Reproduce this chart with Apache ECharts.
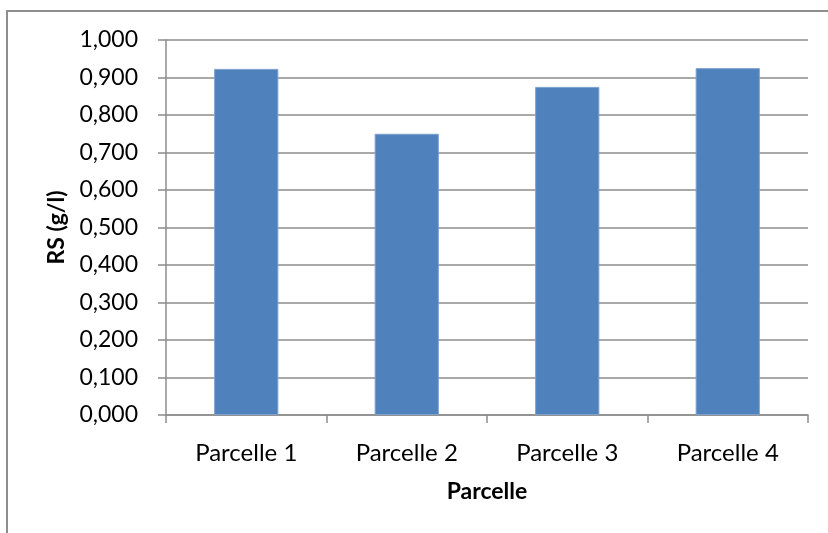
<!DOCTYPE html>
<html>
<head>
<meta charset="utf-8">
<script src="https://cdn.jsdelivr.net/npm/echarts@6/dist/echarts.min.js"></script>
<style>
  html, body { margin: 0; padding: 0; background: #fff; }
  .frame {
    position: absolute; left: 6px; top: 10px; width: 900px; height: 600px;
    border-left: 2px solid #8e8e8e; border-top: 2px solid #8e8e8e;
  }
  #chart { position: absolute; left: 0; top: 0; width: 828px; height: 533px; }
</style>
</head>
<body>
<div class="frame"></div>
<div id="chart"></div>
<script>
// données
const categories = ['Parcelle 1', 'Parcelle 2', 'Parcelle 3', 'Parcelle 4']
const rsValues = [0.923, 0.750, 0.875, 0.925]
const yTitle = 'RS (g/l)'
const xTitle = 'Parcelle'

const font = 'Lato, "Open Sans", sans-serif'
const chart = echarts.init(document.getElementById('chart'))

chart.setOption({
  animation: false,
  textStyle: { fontFamily: font },
  grid: { left: 166, right: 20, top: 40, bottom: 118, containLabel: false },
  xAxis: {
    type: 'category',
    data: categories,
    name: xTitle,
    nameLocation: 'middle',
    nameGap: 65,
    nameTextStyle: { fontSize: 23, fontWeight: 'bold', color: '#000', fontFamily: font },
    axisLine: { lineStyle: { color: '#8c8c8c', width: 1.5 } },
    axisTick: { show: true, length: 8, lineStyle: { color: '#8c8c8c', width: 1.5 } },
    axisLabel: { fontSize: 24, color: '#000', margin: 26, fontFamily: font }
  },
  yAxis: {
    type: 'value',
    min: 0,
    max: 1,
    interval: 0.1,
    name: yTitle,
    nameLocation: 'middle',
    nameGap: 96,
    nameRotate: 90,
    nameTextStyle: { fontSize: 23, fontWeight: 'bold', color: '#000', fontFamily: font },
    axisLine: { show: true, lineStyle: { color: '#8c8c8c', width: 1.5 } },
    axisTick: { show: true, length: 8, lineStyle: { color: '#8c8c8c', width: 1.5 } },
    axisLabel: {
      fontSize: 23, color: '#000', margin: 28, fontFamily: font,
      formatter: v => v.toFixed(3).replace('.', ',')
    },
    splitLine: { show: true, lineStyle: { color: '#8c8c8c', width: 1.5 } }
  },
  series: [{
    type: 'bar',
    data: rsValues,
    barWidth: '40%',
    itemStyle: { color: '#4f81bd', borderColor: '#7da1cf', borderWidth: 1 }
  }]
})
</script>
</body>
</html>
